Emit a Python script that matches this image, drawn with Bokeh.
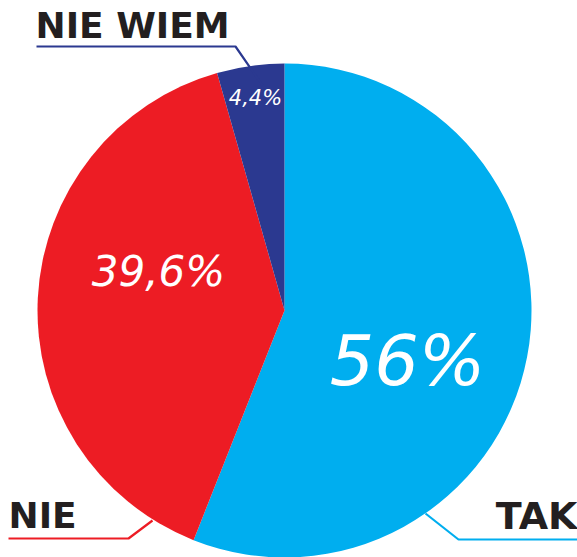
import math
from bokeh.plotting import figure
from bokeh.models import Range1d, ColumnDataSource
from bokeh.core.properties import value
from bokeh.embed import file_html
from bokeh.resources import INLINE

# ---- data ----
categories = ["TAK", "NIE", "NIE WIEM"]
shares = [56.0, 39.6, 4.4]
pct_labels = ["56%", "39,6%", "4,4%"]
colors = ["#00AEEF", "#ED1C24", "#2B3990"]

W, H = 577, 557
def Y(py):
    return H - py

p = figure(width=W, height=H, output_backend="svg", toolbar_location=None,
           x_range=Range1d(0, W), y_range=Range1d(0, H), min_border=0)
p.axis.visible = False
p.grid.visible = False
p.outline_line_color = None
p.background_fill_color = "white"
p.border_fill_color = "white"

cx, cy, r = 284, Y(310), 247
total = sum(shares)
starts, ends = [], []
acc = 0.0
for s in shares:
    starts.append(math.pi / 2 - 2 * math.pi * acc / total)
    acc += s
    ends.append(math.pi / 2 - 2 * math.pi * acc / total)

src = ColumnDataSource(dict(start=starts, end=ends, color=colors))
p.wedge(x=cx, y=cy, radius=r, start_angle="start", end_angle="end",
        direction="clock", fill_color="color", line_color=None, source=src)

# percentage labels (layout positions, cap centres)
lab_x = [407, 158, 255]
lab_y = [Y(360), Y(271), Y(97)]
lab_size = ["70px", "42px", "21px"]
for t, x, y, fs in zip(pct_labels, lab_x, lab_y, lab_size):
    p.text(x=[x], y=[y], text=[t], text_color="white", text_align="center",
           text_baseline="middle", text_font=value("DejaVu Sans"),
           text_font_style="italic", text_font_size=fs)

# category labels with leader lines
cat_x = [577, 8, 35]
cat_y = [Y(515), Y(515), Y(24.5)]
cat_align = ["right", "left", "left"]
cat_size = ["38px", "36px", "36px"]
for t, x, y, a, fs in zip(categories, cat_x, cat_y, cat_align, cat_size):
    p.text(x=[x], y=[y], text=[t], text_color="#231F20", text_align=a,
           text_baseline="middle", text_font=value("DejaVu Sans"),
           text_font_style="bold", text_font_size=fs)

leader_x = [[577, 458, 425], [8, 128, 152], [36, 235, 262]]
leader_y = [[Y(539), Y(539), Y(513)], [Y(538), Y(538), Y(520)], [Y(46), Y(46), Y(85)]]
p.multi_line(xs=leader_x, ys=leader_y, line_color=colors, line_width=2.2)

open("out.html", "w").write(file_html(p, INLINE))
